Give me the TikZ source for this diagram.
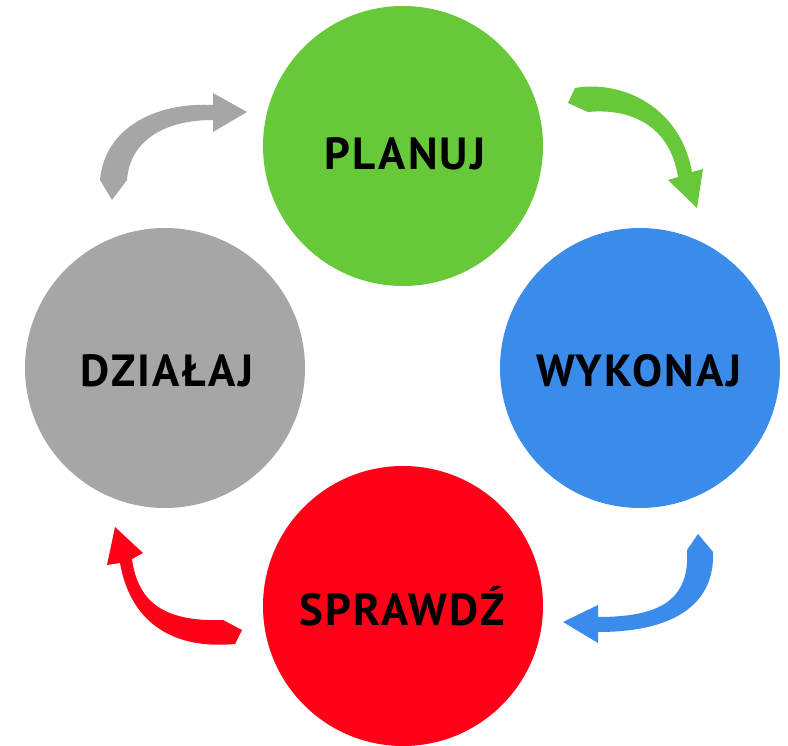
\documentclass[tikz,border=0pt]{standalone}
\usepackage{fontspec}
\setmainfont{PT Sans}
\newfontfamily\lblfont[LetterSpace=5]{PT Sans Bold}
\definecolor{cgreen}{RGB}{103,201,58}
\definecolor{cblue}{RGB}{59,139,235}
\definecolor{cred}{RGB}{255,0,24}
\definecolor{cgray}{RGB}{166,166,166}
\tikzset{
  phase/.style={circle, minimum size=280pt, inner sep=0pt, draw=none},
  lbl/.style={anchor=base, inner sep=0pt, font=\lblfont\fontsize{45}{45}\selectfont, text=black},
}
\begin{document}
\begin{tikzpicture}[x=1pt,y=-1pt]
\useasboundingbox (0,0) rectangle (788,746);
% circles
\node[phase, fill=cgreen] (plan) at (403,146) {};
\node[phase, fill=cblue] (wyk) at (640,368) {};
\node[phase, fill=cred] (spr) at (403,606) {};
\node[phase, fill=cgray] (dzi) at (165,368) {};
% labels
\node[lbl] (tplan) at (405,170) {PLANUJ};
\node[lbl] (twyk) at (639,387) {WYKONAJ};
\node[lbl] (tspr) at (402,625) {SPRAWDŹ};
\node[lbl] (tdzi) at (167,387) {DZIAŁAJ};
% arrows
\fill[cgreen] (575,88) .. controls (620,80) and (680,105) .. (692,172) -- (703,169) -- (697,208) -- (668,180) -- (678,177) .. controls (670,125) and (630,108) .. (588,112) -- (568,103) -- cycle;
\fill[cblue] (713,552) .. controls (715,600) and (680,632) .. (598,632) -- (598,643) -- (563,622) -- (598,605) -- (598,617) .. controls (660,617) and (690,600) .. (687,550) -- (698,534) -- cycle;
\fill[cred] (132,559) .. controls (138,603) and (165,622) .. (223,620) -- (242,630) -- (235,644) .. controls (170,650) and (130,620) .. (120,563) -- (107,565) -- (115,527) -- (143,553) -- cycle;
\fill[cgray] (213,105) .. controls (160,102) and (105,125) .. (100,180) -- (112,200) -- (127,180) .. controls (130,140) and (165,120) .. (213,120) -- (213,132) -- (247,112) -- (213,93) -- cycle;
\end{tikzpicture}
\end{document}
